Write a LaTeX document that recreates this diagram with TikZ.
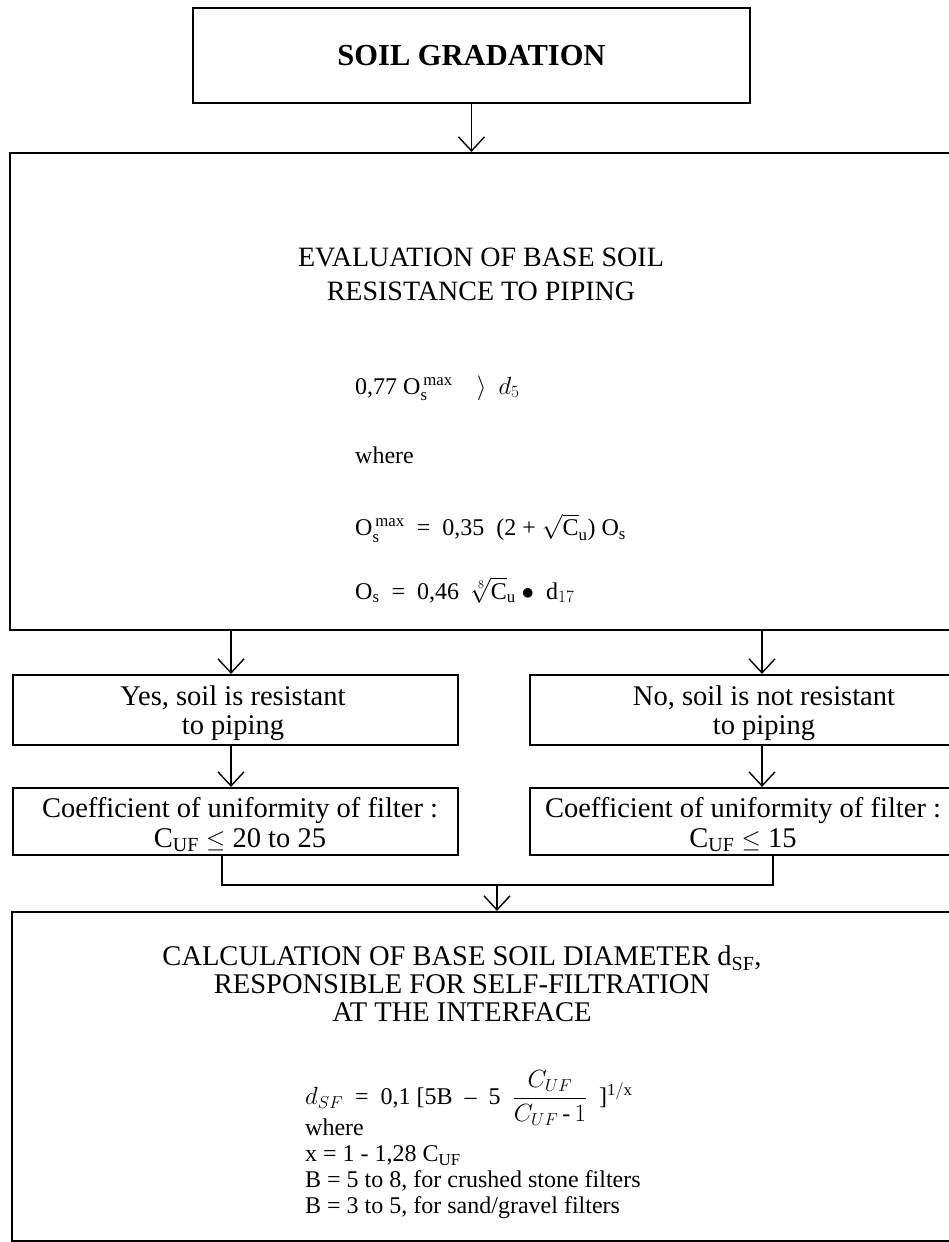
\documentclass[tikz,border=0pt]{standalone}
\usepackage{fontspec}
\setmainfont{Liberation Serif}
\usetikzlibrary{positioning,arrows.meta}

\tikzset{
  box/.style={draw, line width=2.2pt, inner sep=0pt, align=center},
  arr/.style={->, line width=1.4pt, >={Straight Barb[length=14pt,width=26pt]}},
  txt/.style={inner sep=0pt, align=center, font=\fontsize{28.5}{29.5}\selectfont},
  frm/.style={inner sep=0pt, anchor=west, font=\fontsize{24}{26}\selectfont},
}

\begin{document}
\begin{tikzpicture}[x=1pt, y=-1pt]
  \useasboundingbox (0,0) rectangle (949,1242);

  % top box
  \node[box, minimum width=557pt, minimum height=95pt,
        font=\fontsize{30.5}{32}\selectfont\bfseries] (grad) at (471.5,55.5) {SOIL GRADATION};

  % evaluation of piping resistance
  \node[box, minimum width=980pt, minimum height=477pt] (eval) at (500,391.5) {};
  \node[txt, font=\fontsize{28}{34}\selectfont] (evaltitle) at (481,274) {EVALUATION OF BASE SOIL\\RESISTANCE TO PIPING};
  \node[frm] (f1) at (355,388) {0,77 $\mathrm{O}_{\mathrm{s}}^{\,\mathrm{max}}$\quad$\rangle$\ \ $d_5$};
  \node[frm] (f2) at (355,455) {where};
  \node[frm] (f3) at (355,528) {$\mathrm{O}_{\mathrm{s}}^{\,\mathrm{max}}$\ \ =\ \ 0,35\ \ (2 + $\sqrt{\mathrm{C}}_{\mathrm{u}}$) O$_{\mathrm{s}}$};
  \node[frm] (f4) at (355,590) {O$_{\mathrm{s}}$\ \ =\ \ 0,46\ \ $\sqrt[8]{\mathrm{C}}_{\mathrm{u}}$ $\bullet$\ \ d$_{17}$};

  % yes / no
  \node[box, minimum width=445pt, minimum height=70pt] (yes) at (235.5,710) {};
  \node[txt] at (233,713) {Yes, soil is resistant\\to piping};
  \node[box, minimum width=464pt, minimum height=70pt] (no) at (762,710) {};
  \node[txt] at (764,713) {No, soil is not resistant\\to piping};

  % uniformity of filter
  \node[box, minimum width=445pt, minimum height=67pt] (cufa) at (235.5,821.5) {};
  \node[txt] at (240,825) {Coefficient of uniformity of filter :\\C$_{\mathrm{UF}}$ $\leq$ 20 to 25};
  \node[box, minimum width=464pt, minimum height=67pt] (cufb) at (762,821.5) {};
  \node[txt] at (743,825) {Coefficient of uniformity of filter :\\C$_{\mathrm{UF}}$ $\leq$ 15};

  % self-filtration
  \node[box, minimum width=980pt, minimum height=329pt] (calc) at (502,1076.5) {};
  \node[txt, font=\fontsize{28.5}{28}\selectfont] (calctitle) at (462,984) {CALCULATION OF BASE SOIL DIAMETER d$_{\mathrm{SF}}$,\\RESPONSIBLE FOR SELF-FILTRATION\\AT THE INTERFACE};
  \node[frm] (g1) at (305,1098) {$d_{SF}$\ \ =\ \ 0,1\ [5B\ \ --\ \ 5\ \ ${\displaystyle\frac{C_{UF}}{C_{UF}\,\mbox{-}\,1}}$\ \ ]$^{\mathrm{1/x}}$};
  \node[frm, anchor=north west, align=left] (g2) at (305,1119) {where\\x = 1 - 1,28 C$_{\mathrm{UF}}$\\B = 5 to 8, for crushed stone filters\\B = 3 to 5, for sand/gravel filters};

  \coordinate (xa) at (231,630);
  \coordinate (xb) at (762,630);
  \coordinate (jl) at (222,885);
  \coordinate (jr) at (773,885);
  \coordinate (jm) at (497,885);

  \draw[arr] (grad.south) -- (grad.south |- eval.north);
  \draw[arr] (xa) -- (xa |- yes.north);
  \draw[arr] (xb) -- (xb |- no.north);
  \draw[arr] (xa |- yes.south) -- (xa |- cufa.north);
  \draw[arr] (xb |- no.south) -- (xb |- cufb.north);
  \draw[line width=1.4pt] (jl |- cufa.south) -- (jl) -- (jr) -- (jr |- cufb.south);
  \draw[arr] (jm) -- (jm |- calc.north);
\end{tikzpicture}
\end{document}
